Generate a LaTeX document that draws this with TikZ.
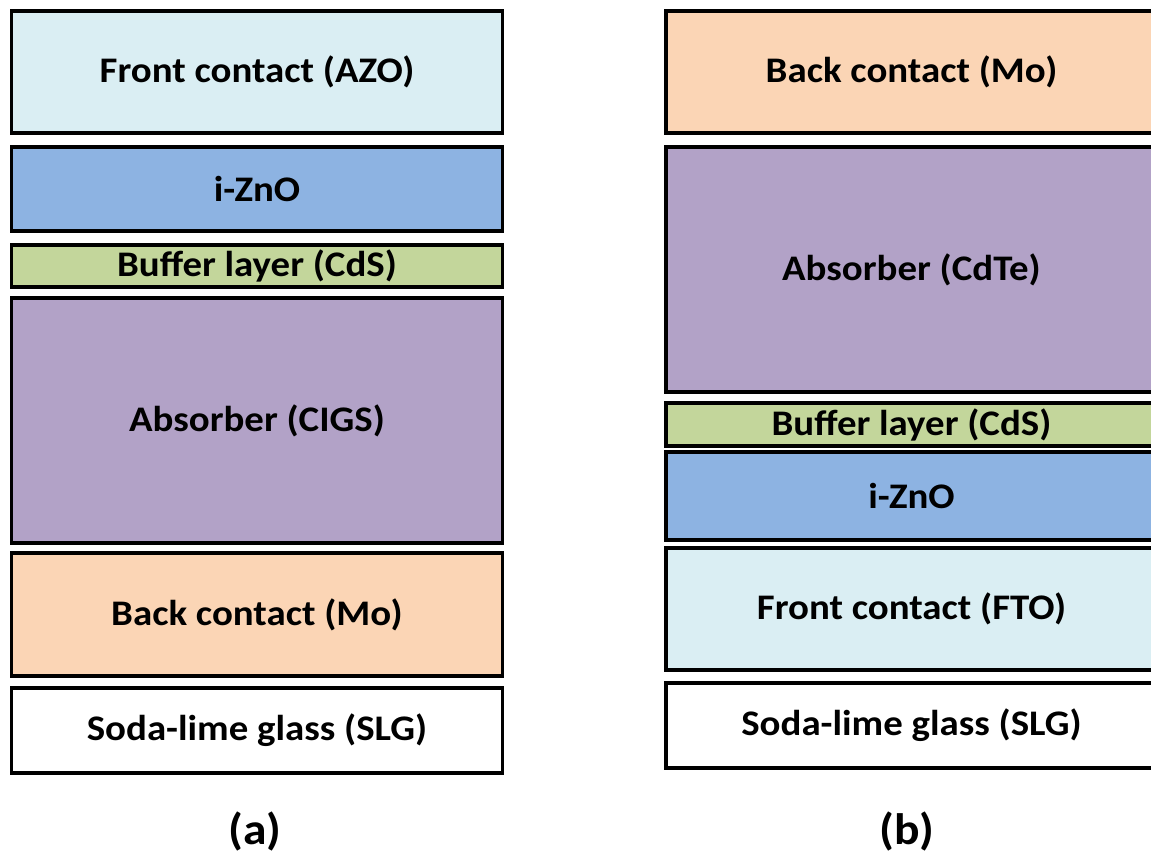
\documentclass[tikz,border=0pt]{standalone}
\usepackage{fontspec}
\setmainfont{Carlito}
\newfontfamily\stretchedfont[FakeStretch=1.08]{Carlito}
\definecolor{cfront}{HTML}{DAEEF3}
\definecolor{czno}{HTML}{8DB3E2}
\definecolor{cbuf}{HTML}{C3D69B}
\definecolor{cabs}{HTML}{B2A2C7}
\definecolor{cback}{HTML}{FBD5B5}
\tikzset{
  layer/.style={draw=black, line width=3.3pt, minimum width=491pt, inner sep=0pt,
    font=\stretchedfont\fontsize{36}{40}\selectfont\bfseries, text=black},
  sublabel/.style={font=\stretchedfont\fontsize{44}{50}\selectfont\bfseries, text=black}
}
\begin{document}
\begin{tikzpicture}[x=1pt,y=-1pt]
\useasboundingbox (0,0) rectangle (1151,856);
% (a) CIGS
\node[layer, fill=cfront, minimum height=122pt] (af) at (257,72) {Front contact (AZO)};
\node[layer, fill=czno, minimum height=84pt] (az) at (257,189) {i-ZnO};
\node[layer, fill=cbuf, minimum height=42pt] (ab) at (257,266) {Buffer layer (CdS)};
\node[layer, fill=cabs, minimum height=245pt] (aa) at (257,420.5) {Absorber (CIGS)};
\node[layer, fill=cback, minimum height=123pt] (am) at (257,614.5) {Back contact (Mo)};
\node[layer, fill=white, minimum height=85pt] (ag) at (257,730.5) {Soda-lime glass (SLG)};
\node[sublabel] (la) at (255,831) {(a)};
% (b) CdTe
\node[layer, fill=cback, minimum height=122pt] (bm) at (911.5,72) {Back contact (Mo)};
\node[layer, fill=cabs, minimum height=245pt] (ba) at (911.5,269.5) {Absorber (CdTe)};
\node[layer, fill=cbuf, minimum height=43pt] (bb) at (911.5,424.5) {Buffer layer (CdS)};
\node[layer, fill=czno, minimum height=88pt] (bz) at (911.5,496) {i-ZnO};
\node[layer, fill=cfront, minimum height=122pt] (bf) at (911.5,609) {Front contact (FTO)};
\node[layer, fill=white, minimum height=85pt] (bg) at (911.5,725.5) {Soda-lime glass (SLG)};
\node[sublabel] (lb) at (907,831) {(b)};
\end{tikzpicture}
\end{document}
